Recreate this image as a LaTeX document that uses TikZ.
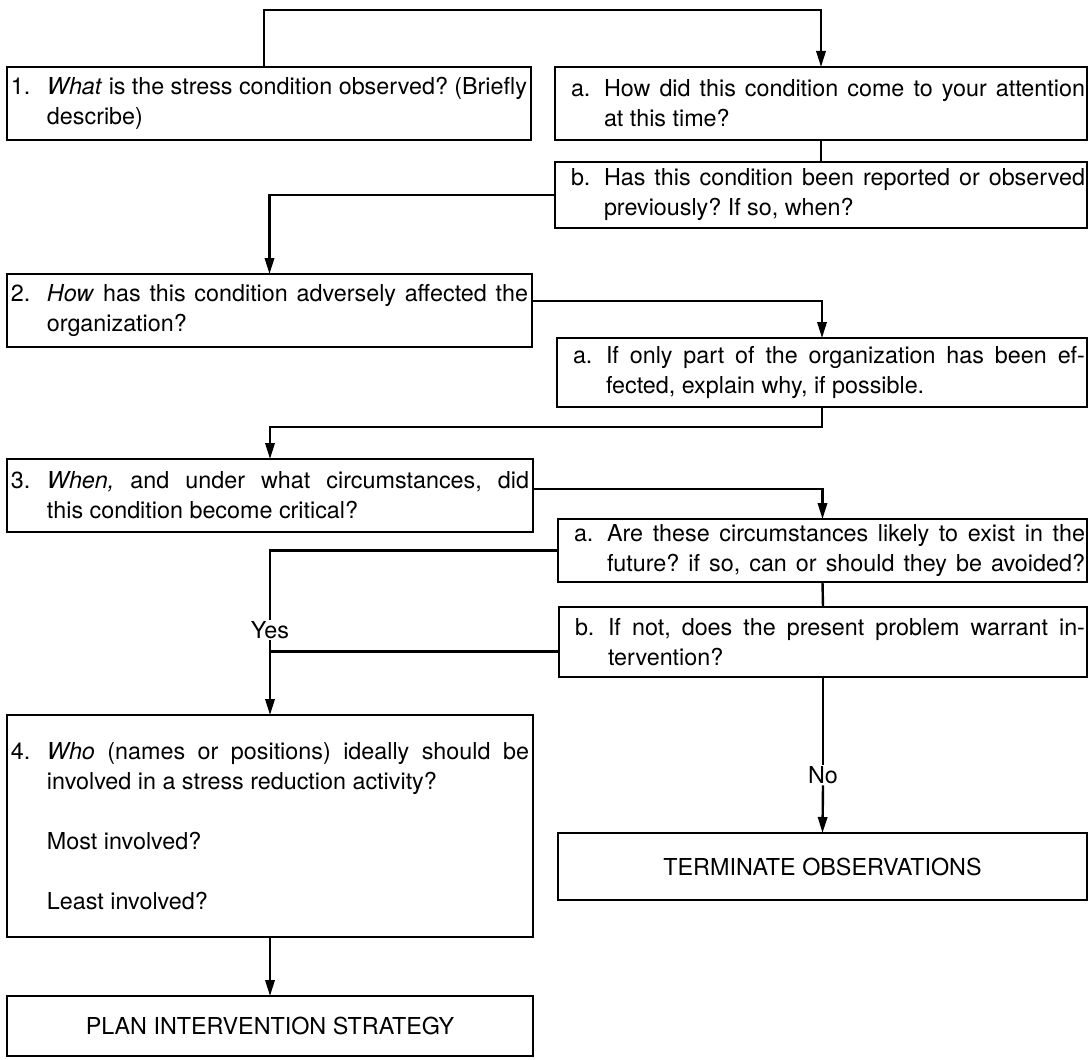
\documentclass[tikz,border=0pt]{standalone}
\usepackage{fontspec}
\setmainfont{TeX Gyre Heros}
\usetikzlibrary{arrows.meta}
\frenchspacing
\newdimen\pxu \pxu=0.75pt
\newcommand\qtext[5]{\parbox{\dimexpr #1\pxu\relax}{\frenchspacing\leftskip=#2\pxu\relax\rightskip=#3\pxu\relax\parindent=0pt\hangindent=#4\pxu\relax\hangafter=1\relax\emergencystretch=30pt\hbadness=10000\hfuzz=20pt #5}}
\tikzset{
  qbox/.style={draw, line width=1.8pt, inner sep=0pt, outer sep=0pt, anchor=north west, rectangle},
  conn/.style={line width=1.8pt},
  arr/.style={conn, -{Triangle[length=12pt,width=7pt]}},
  lbl/.style={fill=white, inner sep=1pt},
  every node/.style={font=\fontsize{17.5}{22.5}\selectfont}
}
\begin{document}
\begin{tikzpicture}[x=0.75pt, y=-0.75pt]
\useasboundingbox (0,0) rectangle (1091,1059);

\node[qbox, minimum width=524*0.75pt, minimum height=73*0.75pt] (q1) at (7,67)
  {\qtext{524}{4}{4}{36}{\makebox[36\pxu][l]{1.}\textit{What} is the stress condition observed? (Briefly\linebreak describe)}};
\node[qbox, minimum width=532*0.75pt, minimum height=73*0.75pt] (qa) at (555,67)
  {\qtext{532}{16}{2}{33}{\makebox[33\pxu][l]{a.}How did this condition come to your attention\linebreak at this time?}};
\node[qbox, minimum width=532*0.75pt, minimum height=66*0.75pt] (qb) at (555,162)
  {\qtext{532}{16}{2}{33}{\makebox[33\pxu][l]{b.}Has this condition been reported or observed\linebreak previously? If so, when?}};
\node[qbox, minimum width=525*0.75pt, minimum height=73*0.75pt] (q2) at (7,274)
  {\qtext{525}{4}{4}{36}{\makebox[36\pxu][l]{2.}\textit{How} has this condition adversely affected the\linebreak organization?}};
\node[qbox, minimum width=530*0.75pt, minimum height=69*0.75pt] (q2a) at (557,338)
  {\qtext{530}{16}{2}{33}{\makebox[33\pxu][l]{a.}If only part of the organization has been ef-\linebreak fected, explain why, if possible.}};
\node[qbox, minimum width=526*0.75pt, minimum height=73*0.75pt] (q3) at (7,459)
  {\qtext{526}{4}{4}{36}{\makebox[36\pxu][l]{3.}\textit{When,} and under what circumstances, did\linebreak this condition become critical?}};
\node[qbox, minimum width=529*0.75pt, minimum height=63*0.75pt] (q3a) at (558,519)
  {\qtext{529}{16}{2}{33}{\parfillskip=0pt \makebox[33\pxu][l]{a.}Are these circumstances likely to exist in the\linebreak future? if so, can or should they be avoided?}};
\node[qbox, minimum width=528*0.75pt, minimum height=70*0.75pt] (q3b) at (559,607)
  {\qtext{528}{16}{2}{33}{\makebox[33\pxu][l]{b.}If not, does the present problem warrant in-\linebreak tervention?}};
\node[qbox, minimum width=526*0.75pt, minimum height=222*0.75pt] (q4) at (7,715)
  {\qtext{526}{4}{4}{36}{\makebox[36\pxu][l]{4.}\textit{Who} (names or positions) ideally should be\linebreak involved in a stress reduction activity?\par\vskip\baselineskip
   \hspace*{36\pxu}Most involved?\par\vskip\baselineskip
   \hspace*{36\pxu}Least involved?}};
\node[qbox, minimum width=526*0.75pt, minimum height=60*0.75pt] (plan) at (7,996) {PLAN INTERVENTION STRATEGY};
\node[qbox, minimum width=529*0.75pt, minimum height=67*0.75pt] (term) at (558,833) {TERMINATE OBSERVATIONS};

\node[lbl] (yes) at (270,630) {Yes};
\node[lbl] (no) at (823,775) {No};

\coordinate (t1) at (264,10);
\coordinate (j1) at (270,427);

\draw[arr] (q1.north -| t1) -- (t1) -| (qa.north);
\draw[conn] (qa.south) -- (qb.north);
\draw[arr] (qb.west) -| (q2.north);
\draw[arr] ([yshift=7pt]q2.east) -| (q2a.north);
\draw[arr] (q2a.south) |- (j1) -- (q3.north);
\draw[arr] ([yshift=5pt]q3.east) -| (q3a.north);
\draw[conn] (q3a.south) -- (q3b.north);
\draw[conn] (q3a.west) -| (yes.north);
\draw[conn] ([yshift=-7pt]q3b.west) -- ([yshift=-7pt]q3b.west -| yes.south);
\draw[arr] (yes.south) -- (q4.north);
\draw[conn] (q3b.south) -- (no.north);
\draw[arr] (no.south) -- (term.north);
\draw[arr] (q4.south) -- (plan.north);
\end{tikzpicture}
\end{document}
